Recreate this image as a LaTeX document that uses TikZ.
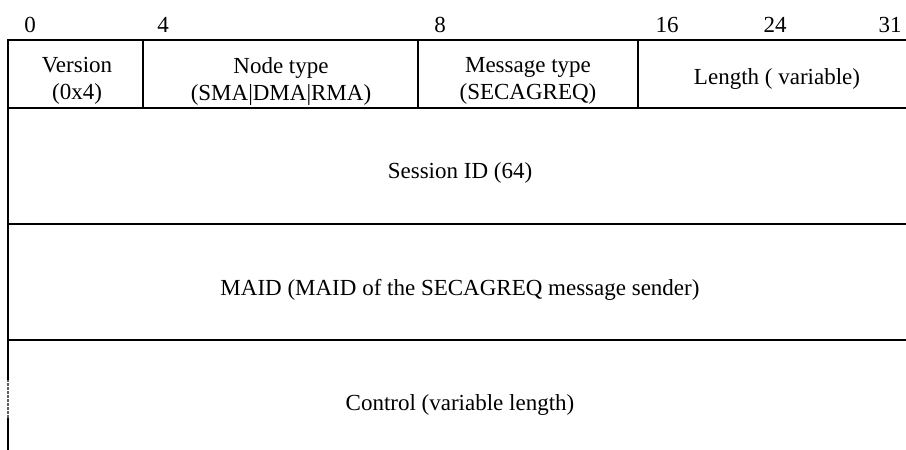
\documentclass[tikz,border=0pt]{standalone}
\usepackage{fontspec}
\setmainfont{Liberation Serif}
\usepackage{xcolor}
\usepackage{tikz}
\usetikzlibrary{positioning}
\definecolor{PktGray}{RGB}{95,95,95}

\begin{document}
\begin{tikzpicture}[x=0.5pt, y=-0.5pt,
          field/.style={inner sep=0pt, align=center,
                        font=\fontsize{11.5}{13.5}\selectfont},
          bitno/.style={inner sep=0pt, font=\fontsize{11.5}{13.5}\selectfont},
          rule/.style={line width=1pt, black},
          gap/.style={line width=1pt, PktGray, dash pattern=on 1.5pt off 0.5pt}
        ]
        \useasboundingbox (0,0) rectangle (906,450);

        % Grid
        \draw[rule] (8,450) -- (8,418);
        \draw[gap]  (8,418) -- (8,380);
        \draw[rule] (8,380) -- (8,40) -- (906,40);
        \draw[rule] (8,108) -- (906,108);
        \draw[rule] (8,224) -- (906,224);
        \draw[rule] (8,340) -- (906,340);
        \draw[rule] (143,40) -- (143,108);
        \draw[rule] (418,40) -- (418,108);
        \draw[rule] (638,40) -- (638,108);

        % Bit numbers
        \node[bitno] (b0)  at (30,25)  {0};
        \node[bitno] (b4)  at (163,25) {4};
        \node[bitno] (b8)  at (440,25) {8};
        \node[bitno] (b16) at (667,25) {16};
        \node[bitno] (b24) at (775,25) {24};
        \node[bitno] (b31) at (890,25) {31};

        % Header fields
        \node[field] (ver)  at (77,81)  {Version\\(0x4)};
        \node[field] (ntyp) at (281,81) {Node type\\(SMA|DMA|RMA)};
        \node[field] (mtyp) at (528,81) {Message type\\(SECAGREQ)};
        \node[field] (len)  at (777,79) {Length ( variable)};

        % Body fields
        \node[field] (sid)  at (460,173) {Session ID (64)};
        \node[field] (maid) at (460,290) {MAID (MAID of the SECAGREQ message sender)};
        \node[field] (ctrl) at (460,405) {Control (variable length)};
      \end{tikzpicture}
\end{document}
